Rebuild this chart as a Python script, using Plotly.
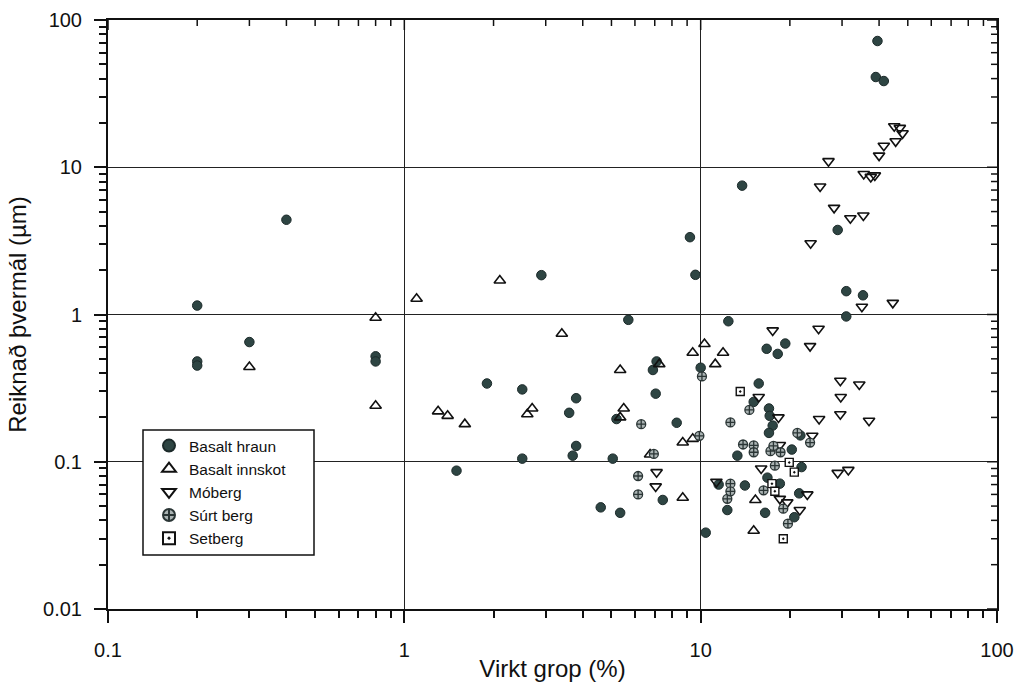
import plotly.graph_objects as go

# ---- data ----
hraun_x = [0.2, 0.2, 0.2, 0.3, 0.4, 0.8, 0.8,
           1.5, 1.9, 2.5, 2.5, 2.9, 3.6, 3.8, 3.8, 3.7,
           4.6, 5.05, 5.2, 5.35, 5.7, 6.9, 7.1, 7.05, 7.45, 8.3,
           9.2, 9.6, 10.0, 10.4, 11.5, 12.3, 12.4, 13.3, 13.8, 14.1, 15.1, 15.7,
           16.5, 16.7, 16.8, 17.0, 17.1, 17.5, 17.0, 18.2, 18.5, 19.3, 20.3, 20.7,
           21.5, 21.7, 21.9, 29.0, 31.0, 31.0, 35.3, 39.5, 39.0, 41.5]
hraun_y = [1.15, 0.48, 0.45, 0.65, 4.4, 0.52, 0.48,
           0.087, 0.34, 0.31, 0.105, 1.85, 0.215, 0.27, 0.128, 0.11,
           0.049, 0.105, 0.195, 0.045, 0.92, 0.42, 0.48, 0.29, 0.055, 0.184,
           3.35, 1.86, 0.435, 0.033, 0.07, 0.047, 0.9, 0.11, 7.5, 0.069, 0.255, 0.34,
           0.045, 0.585, 0.078, 0.23, 0.205, 0.176, 0.157, 0.54, 0.071, 0.635, 0.121, 0.042,
           0.061, 0.151, 0.092, 3.75, 1.44, 0.97, 1.35, 72.0, 41.0, 38.5]

innskot_x = [0.3, 0.8, 0.8, 1.1, 1.3, 1.4, 1.6, 2.1, 2.6, 2.7, 3.4,
             5.35, 5.5, 5.35, 7.25, 6.75, 8.7, 8.7, 9.4, 9.4, 10.3, 11.2, 11.9, 15.3, 15.1]
innskot_y = [0.44, 0.95, 0.24, 1.28, 0.22, 0.205, 0.18, 1.7, 0.21, 0.23, 0.74,
             0.42, 0.23, 0.2, 0.46, 0.112, 0.057, 0.135, 0.143, 0.55, 0.63, 0.46, 0.55, 0.055, 0.034]

moberg_x = [7.1, 7.05, 11.3, 15.7, 16.0, 17.5, 18.3, 18.5, 18.5, 19.6, 21.6, 22.9,
            23.4, 23.5, 23.8, 25.1, 25.0, 25.3, 27.0, 28.2, 29.0, 29.6, 29.7, 29.6,
            31.5, 32.0, 34.3, 35.0, 35.4, 35.5, 37.0, 37.5, 38.7, 40.0, 41.5, 44.5,
            45.0, 47.0, 45.5, 48.0]
moberg_y = [0.085, 0.068, 0.073, 0.275, 0.09, 0.78, 0.2, 0.13, 0.056, 0.053, 0.047, 0.06,
            0.61, 3.05, 0.15, 0.195, 0.8, 7.4, 11.0, 5.3, 0.084, 0.355, 0.275, 0.21,
            0.088, 4.5, 0.335, 1.13, 4.7, 9.0, 0.19, 8.6, 8.8, 12.0, 14.0, 1.2,
            19.0, 18.5, 15.0, 17.0]

surt_x = [6.15, 6.15, 6.3, 6.95, 9.9, 10.1, 12.3, 12.6, 12.6, 12.6, 13.9, 14.6,
          15.1, 15.1, 16.3, 17.2, 17.6, 17.8, 18.6, 19.0, 19.7, 21.2, 23.4]
surt_y = [0.08, 0.06, 0.18, 0.113, 0.15, 0.38, 0.056, 0.185, 0.071, 0.063, 0.131, 0.225,
          0.129, 0.116, 0.064, 0.118, 0.128, 0.094, 0.116, 0.048, 0.038, 0.157, 0.135]

setberg_x = [13.6, 17.4, 17.8, 19.0, 19.9, 20.7]
setberg_y = [0.30, 0.071, 0.063, 0.03, 0.099, 0.085]

x_tickvals = [0.1, 1, 10, 100]
x_ticktext = ["0.1", "1", "10", "100"]
y_tickvals = [0.01, 0.1, 1, 10, 100]
y_ticktext = ["0.01", "0.1", "1", "10", "100"]
x_minor = [m * d for d in [0.1, 1, 10] for m in range(2, 10)]
y_minor = [m * d for d in [0.01, 0.1, 1, 10] for m in range(2, 10)]

series_names = ["Basalt hraun", "Basalt innskot", "Móberg", "Súrt berg", "Setberg"]

FONT = "Liberation Sans, Arial, Helvetica, sans-serif"
INK = "#111111"

W, H = 1022, 683
ML, MR, MT, MB = 108, 25, 20, 74
PW, PH = W - ML - MR, H - MT - MB

fig = go.Figure()
fig.add_trace(go.Scatter(x=hraun_x, y=hraun_y, mode="markers", name=series_names[0],
                         marker=dict(symbol="circle", size=9.5, color="#2e4543",
                                     line=dict(color="#1c2a2a", width=1))))
fig.add_trace(go.Scatter(x=innskot_x, y=innskot_y, mode="markers", name=series_names[1],
                         marker=dict(symbol="triangle-up-open", size=10, color=INK,
                                     line=dict(color=INK, width=1.6))))
fig.add_trace(go.Scatter(x=moberg_x, y=moberg_y, mode="markers", name=series_names[2],
                         marker=dict(symbol="triangle-down-open", size=10, color=INK,
                                     line=dict(color=INK, width=1.6))))
fig.add_trace(go.Scatter(x=surt_x, y=surt_y, mode="markers", name=series_names[3],
                         marker=dict(symbol="circle-cross", size=9, color="#a9b2b2",
                                     line=dict(color="#2a3535", width=1.3))))
fig.add_trace(go.Scatter(x=setberg_x, y=setberg_y, mode="markers", name=series_names[4],
                         marker=dict(symbol="square-dot", size=8, color="white",
                                     line=dict(color=INK, width=1.4))))

# inward-pointing ticks on the top and right frame edges (mirrors of the axis ticks)
shapes = []
tick_line = dict(color=INK, width=1.5)
for vals, length in ((x_tickvals, 10), (x_minor, 6)):
    for v in vals:
        shapes.append(dict(type="line", xref="x", yref="y domain",
                           x0=v, x1=v, y0=1, y1=1 - length / PH,
                           line=tick_line, layer="above"))
for vals, length in ((y_tickvals, 10), (y_minor, 6)):
    for v in vals:
        shapes.append(dict(type="line", xref="x domain", yref="y",
                           x0=1, x1=1 - length / PW, y0=v, y1=v,
                           line=tick_line, layer="above"))
# legend frame (white box hiding the grid line behind the legend)
shapes.append(dict(type="rect", xref="paper", yref="paper",
                   x0=(143 - ML) / PW, x1=(314 - ML) / PW,
                   y0=(H - MB - 555) / PH, y1=(H - MB - 430) / PH,
                   fillcolor="white", line=dict(color=INK, width=1.5), layer="above"))

common = dict(type="log", showline=True, linecolor=INK, linewidth=2, automargin=False,
              tickfont=dict(family=FONT, size=20, color=INK), tickcolor=INK, tickwidth=1.5)

fig.update_layout(
    width=W, height=H,
    margin=dict(l=ML, r=MR, t=MT, b=MB, autoexpand=False),
    paper_bgcolor="white", plot_bgcolor="white",
    font=dict(family=FONT, color=INK),
    shapes=shapes,
    xaxis=dict(**common, range=[-1, 2], mirror=True,
               tickmode="array", tickvals=x_tickvals, ticktext=x_ticktext,
               ticks="outside", ticklen=12, ticklabelstandoff=10,
               showgrid=True, gridcolor="#222222", gridwidth=1, zeroline=False,
               minor=dict(tickmode="array", tickvals=x_minor, ticks="outside",
                          ticklen=7, tickcolor=INK, tickwidth=1.5, showgrid=False),
               title=dict(text="Virkt grop (%)", font=dict(family=FONT, size=24, color=INK),
                          standoff=0)),
    yaxis=dict(**common, range=[-2, 2], mirror=True,
               tickmode="array", tickvals=y_tickvals, ticktext=y_ticktext,
               ticks="outside", ticklen=12, ticklabelstandoff=8,
               showgrid=True, gridcolor="#222222", gridwidth=1, zeroline=False,
               minor=dict(tickmode="array", tickvals=y_minor, ticks="outside",
                          ticklen=7, tickcolor=INK, tickwidth=1.5, showgrid=False),
               title=dict(text="Reiknað þvermál (µm)", font=dict(family=FONT, size=24, color=INK),
                          standoff=10)),
    legend=dict(x=(149 - ML) / PW, y=(H - MB - 429) / PH, xanchor="left", yanchor="top",
                bgcolor="rgba(0,0,0,0)", borderwidth=0,
                font=dict(family=FONT, size=15.5, color=INK),
                itemsizing="constant", tracegroupgap=0),
    showlegend=True,
)

fig.write_html("out.html")
